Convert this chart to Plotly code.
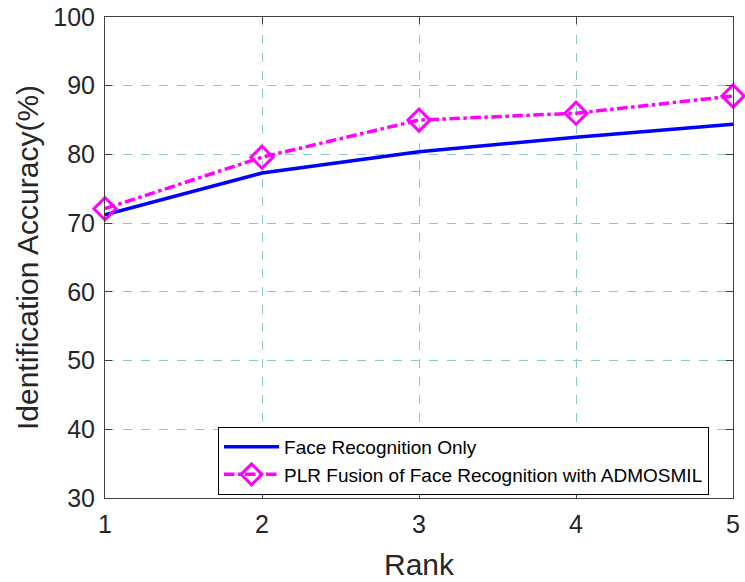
import plotly.graph_objects as go

ranks = [1, 2, 3, 4, 5]
face_only = [71.2, 77.3, 80.4, 82.5, 84.4]
plr_fusion = [72.1, 79.6, 85.0, 86.0, 88.5]
y_ticks = [30, 40, 50, 60, 70, 80, 90, 100]

FONT = "Liberation Sans, Arial, Helvetica"

fig = go.Figure()
fig.add_trace(go.Scatter(
    x=ranks, y=face_only, mode="lines", name="Face Recognition Only",
    line=dict(color="#0000ff", width=3.5), cliponaxis=False))
fig.add_trace(go.Scatter(
    x=ranks, y=plr_fusion, mode="lines+markers",
    name="PLR Fusion of Face Recognition with ADMOSMIL",
    line=dict(color="#ff00ff", width=3.5, dash="dashdot"),
    marker=dict(symbol="diamond-open", size=17, color="#ff00ff",
                line=dict(width=3, color="#ff00ff")),
    cliponaxis=False))

axis_common = dict(
    showline=True, linecolor="#404040", linewidth=1, mirror="ticks",
    ticks="inside", ticklen=7, tickcolor="#404040",
    showgrid=True, gridcolor="#8cc8c8", griddash="dash", gridwidth=1,
    zeroline=False, automargin=False, ticklabeloverflow="allow",
    tickfont=dict(family=FONT, size=25, color="#262626"),
)

fig.update_xaxes(range=[1, 5], tickvals=ranks,
                 title=dict(text="Rank", font=dict(size=30, family=FONT, color="#262626"), standoff=16),
                 ticklabelstandoff=4, **axis_common)
fig.update_yaxes(range=[30, 100], tickvals=y_ticks,
                 title=dict(text="Identification Accuracy(%)", font=dict(size=30, family=FONT, color="#262626"), standoff=5),
                 ticklabelstandoff=4, **axis_common)

fig.update_layout(
    width=745, height=582,
    margin=dict(l=105, r=12, t=17, b=84),
    plot_bgcolor="white", paper_bgcolor="white",
    legend=dict(x=0.18, y=0.148, xanchor="left", yanchor="top",
                bordercolor="black", borderwidth=1, bgcolor="white",
                font=dict(family=FONT, size=19, color="black"),
                tracegroupgap=0, itemwidth=55),
)

fig.write_html("out.html", config={"displayModeBar": False},
               post_script="document.body.style.margin='0px';")
